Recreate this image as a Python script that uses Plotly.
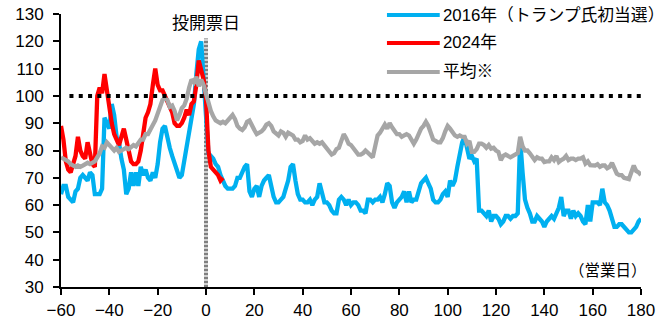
import plotly.graph_objects as go

# Business days relative to election day
days = list(range(-60, 181))
days_2024 = list(range(-60, 8))

# 2016 (first Trump win)
v2016 = [
    64, 67, 67, 63, 62, 61, 65, 66, 70, 71,            # -60..-51
    70, 69, 72, 71, 64, 64, 64, 66, 92, 90,            # -50..-41
    88, 97, 93, 85, 83, 77, 73, 64, 66, 72,            # -40..-31
    67, 72, 67, 74, 71, 73, 70, 69, 72, 70,            # -30..-21
    75, 83, 88, 89, 84, 81, 78, 75, 72, 70,            # -20..-11
    71, 76, 81, 86, 90, 97, 108, 117, 120, 108,        # -10..-1
    93,                                                # 0
    79, 78, 77, 75, 74, 71, 69, 67, 66, 66,            # 1..10
    66, 67, 70, 70, 72, 74, 75, 65, 63, 66,            # 11..20
    67, 63, 67, 69, 70, 71, 67, 63, 61, 61,            # 21..30
    62, 63, 66, 69, 74, 75, 69, 64, 62, 62,            # 31..40
    61, 61, 62, 60, 62, 63, 68, 65, 61, 61,            # 41..50
    60, 58, 57, 57, 62, 63, 62, 60, 62, 60,            # 51..60
    61, 61, 60, 58, 58, 57, 62, 62, 61, 62,            # 61..70
    62, 63, 61, 64, 68, 67, 61, 59, 61, 62,            # 71..80
    63, 65, 61, 65, 61, 62, 62, 65, 68, 69,            # 81..90
    70, 68, 66, 62, 61, 61, 62, 64, 65, 63,            # 91..100
    69, 67, 69, 74, 79, 83, 85, 80, 77, 78,            # 101..110
    76, 77, 58, 58, 57, 56, 58, 54, 56, 56,            # 111..120
    55, 53, 54, 56, 56, 55, 56, 56, 57, 84,            # 121..130
    72, 62, 59, 57, 54, 54, 56, 55, 54, 52,            # 131..140
    54, 55, 56, 55, 57, 59, 63, 56, 58, 58,            # 141..150
    55, 58, 56, 57, 56, 54, 53, 60, 54, 61,            # 151..160
    61, 61, 60, 66, 61, 60, 58, 55, 52, 52,            # 161..170
    53, 53, 52, 51, 50, 50, 51, 52, 54, 55,            # 171..180
]

# 2024
v2024 = [
    89, 84, 76, 73, 72, 75, 78, 85, 80, 78,            # -60..-51
    77, 83, 78, 75, 74, 100, 103, 101, 108, 101,       # -50..-41
    95, 90, 86, 84, 82, 85, 88, 84, 79, 76,            # -40..-31
    75, 75, 76, 80, 86, 92, 94, 97, 104, 110,          # -30..-21
    104, 102, 102, 100, 98, 96, 94, 90, 89, 89,        # -20..-11
    90, 92, 95, 93, 97, 98, 104, 113, 110, 106,        # -10..-1
    99,                                                # 0
    80, 74, 73, 72, 71, 69, 70,                        # 1..7
]

# Average (※)
v_avg = [
    77.5, 77, 76.5, 76, 75, 74.5, 74, 74.5, 74, 74.5,          # -60..-51
    75, 75.5, 75, 75.5, 76, 77.5, 79, 81.5, 81, 83,            # -50..-41
    82, 81, 80, 81, 79.5, 80, 80.5, 81, 80.5, 81.5,            # -40..-31
    82, 81.5, 82.5, 84, 84, 86, 86, 87.5, 89, 91,              # -30..-21
    93.5, 96, 98.5, 99, 98.5, 96, 96.5, 94.5, 91, 93,          # -20..-11
    95.5, 96.5, 99, 103, 106, 105, 107, 103.5, 106, 104,       # -10..-1
    101,                                                       # 0
    97, 94.5, 92.5, 91, 90.5, 90, 90.5, 90, 91, 92,            # 1..10
    93, 91.5, 89, 88, 87.5, 88.5, 90.5, 91, 89, 87.5,          # 11..20
    86, 86.5, 87, 88, 89.5, 90, 89, 87, 86, 85.5,              # 21..30
    87, 86.5, 85, 86.5, 86, 85.5, 84, 84, 83, 83.5,            # 31..40
    85.5, 84, 84.5, 83.5, 82.5, 83, 82.5, 83, 82, 81,          # 41..50
    79.5, 78.5, 79, 80.5, 81, 83.5, 86, 84.5, 82.5, 82,        # 51..60
    81, 79.5, 78.5, 78.5, 79, 80, 79, 78.5, 77.5, 81.5,        # 61..70
    85.5, 86.5, 88, 89.5, 88, 90, 88.5, 87, 86, 86,            # 71..80
    85, 85.5, 86, 85.5, 84, 82.5, 84, 86.5, 88, 89,            # 81..90
    90.5, 89, 86, 84, 83.5, 83, 83, 84.5, 87, 89,              # 91..100
    88, 86.5, 85.5, 85, 85.5, 85, 85, 82.5, 83.5, 79.5,        # 101..110
    79.5, 80.5, 82.5, 82.5, 82, 81, 82, 80.7, 81, 80,          # 111..120
    79.5, 76.5, 78, 78.5, 78, 77.5, 78, 78.5, 79, 85,          # 121..130
    81.5, 80, 80, 79, 78, 76.5, 77.5, 77, 77, 75.8,            # 131..140
    76, 76, 77.5, 76.5, 78, 75.8, 76.5, 77, 78, 76.5,          # 141..150
    77, 77, 76.5, 77, 77, 77.5, 75.2, 76, 74.6, 74.5,          # 151..160
    74.5, 75, 74, 74.5, 74.5, 73.5, 74, 75.5, 73, 71.5,        # 161..170
    71, 71, 70, 69.7, 69.5, 72, 74.5, 72.5, 72, 71,            # 171..180
]

series_names = ["2016年（トランプ氏初当選）", "2024年", "平均※"]
series_colors = ["#00B0F0", "#FF0000", "#A6A6A6"]

x_ticks = list(range(-60, 181, 20))
y_ticks = list(range(30, 131, 10))
baseline = 100
election_day = 0

LATIN = "Liberation Sans, Arial, sans-serif"
CJK = "Liberation Sans, Noto Sans CJK JP, sans-serif"

fig = go.Figure()
fig.add_trace(go.Scatter(x=days, y=v2016, mode="lines", name=series_names[0],
                         line=dict(color=series_colors[0], width=4.3)))
fig.add_trace(go.Scatter(x=days_2024, y=v2024, mode="lines", name=series_names[1],
                         line=dict(color=series_colors[1], width=4.3)))
fig.add_trace(go.Scatter(x=days, y=v_avg, mode="lines", name=series_names[2],
                         line=dict(color=series_colors[2], width=4.3)))

# Election-day marker: hatched grey vertical bar
fig.add_shape(type="line", x0=election_day, x1=election_day, y0=30, y1=121,
              xref="x", yref="y", layer="below",
              line=dict(color="#D0D0D0", width=4))
fig.add_shape(type="line", x0=election_day, x1=election_day, y0=30, y1=121,
              xref="x", yref="y", layer="below",
              line=dict(color="#7F7F7F", width=4, dash="2px,2px"))

# Dotted reference line at 100
fig.add_shape(type="line", x0=-56.5, x1=180, y0=baseline, y1=baseline,
              xref="x", yref="y", layer="above",
              line=dict(color="black", width=4, dash="4px,5.3px"))

fig.add_annotation(x=election_day, y=126.5, xref="x", yref="y", text="投開票日",
                   showarrow=False, xanchor="center", yanchor="middle",
                   font=dict(family=CJK, size=17, color="black"))

fig.add_annotation(x=1.013, y=0.062, xref="paper", yref="paper", text="（営業日）",
                   showarrow=False, xanchor="right", yanchor="middle",
                   font=dict(family=CJK, size=15.5, color="black"))

# Legend drawn as sample lines plus labels
legend_rows = [0.996, 0.894, 0.788]
for name, color, yrow in zip(series_names, series_colors, legend_rows):
    fig.add_shape(type="line", x0=0.562, x1=0.653, y0=yrow, y1=yrow,
                  xref="paper", yref="paper", line=dict(color=color, width=4))
    fig.add_annotation(x=0.655, y=yrow, xref="paper", yref="paper", text=name,
                       showarrow=False, xanchor="left", yanchor="middle",
                       font=dict(family=CJK, size=16.8, color="black"))

fig.update_layout(
    width=669, height=322,
    margin=dict(l=61, r=28, t=14, b=35, autoexpand=False),
    paper_bgcolor="white", plot_bgcolor="white",
    showlegend=False,
    xaxis=dict(range=[-60, 180], tickvals=x_ticks, ticks="outside", ticklen=6,
               tickwidth=2, tickcolor="black", showline=True, linecolor="black",
               linewidth=2, showgrid=False, zeroline=False, ticklabelstandoff=1,
               automargin=False,
               tickfont=dict(family=LATIN, size=17, color="black")),
    yaxis=dict(range=[30, 130], tickvals=y_ticks, ticks="outside", ticklen=6,
               tickwidth=2, tickcolor="black", showline=True, linecolor="black",
               linewidth=2, showgrid=False, zeroline=False, ticklabelstandoff=6,
               automargin=False,
               tickfont=dict(family=LATIN, size=17, color="black")),
)

fig.write_html("out.html")
